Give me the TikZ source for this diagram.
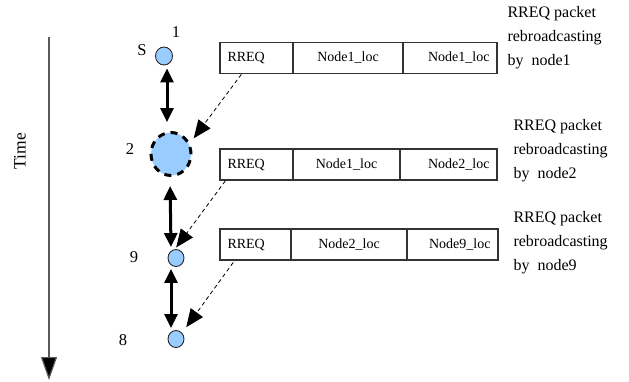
\documentclass[tikz,border=0pt]{standalone}
\usepackage{fontspec}
\setmainfont{Liberation Serif}
\usetikzlibrary{arrows.meta,shapes.geometric,calc}
\definecolor{nodeblue}{RGB}{153,204,255}
\begin{document}
\begin{tikzpicture}[x=1pt,y=-1pt,
  every node/.style={font=\fontsize{14}{16}\selectfont},
  numlabel/.style={font=\fontsize{16.5}{18}\selectfont},
  netnode/.style={ellipse,draw=black!85,line width=0.9pt,fill=nodeblue,inner sep=0pt},
  cell/.style={draw=black!80,line width=1.1pt,minimum height=31pt,inner xsep=7.5pt,inner ysep=0pt,outer sep=0pt},
  dbl/.style={line width=3pt,{Triangle[length=14pt,width=13pt]}-{Triangle[length=14pt,width=13pt]}},
  msg/.style={dashed,dash pattern=on 4pt off 3pt,line width=0.8pt,-{Triangle[length=18pt,width=15pt]}},
  side/.style={align=left,anchor=west,font=\fontsize{16}{24}\selectfont}]
\useasboundingbox (0,0) rectangle (629,381);
% time axis
\coordinate (t0) at (49,37);
\coordinate (t1) at (49,380);
\draw[line width=1.2pt,draw=black!65,-{Triangle[length=23pt,width=16pt,fill=black]}] (t0) -- (t1);
\node[rotate=90,font=\fontsize{17.5}{19}\selectfont] (time) at (20,151) {Time};
% nodes
\node[netnode,minimum width=17pt,minimum height=18pt] (s) at (164,56) {};
\node[netnode,draw=black,line width=3pt,dash pattern=on 7pt off 6pt,minimum width=40pt,minimum height=43pt] (n2) at (171,154) {};
\node[netnode,minimum width=16pt,minimum height=17pt] (n9) at (176,258) {};
\node[netnode,minimum width=16pt,minimum height=17pt] (n8) at (176,339) {};
% node labels
\node[numlabel] (l1) at (176,32) {1};
\node[numlabel] (ls) at (142,50) {S};
\node[numlabel] (l2) at (130,149) {2};
\node[numlabel] (l9) at (134,257) {9};
\node[numlabel] (l8) at (123,340) {8};
% double arrows
\draw[dbl,shorten <=3pt,shorten >=9pt] ([xshift=3pt]s.south) -- ([xshift=-4pt]n2.north);
\draw[dbl,shorten <=9pt,shorten >=2pt] ([xshift=-1pt]n2.south) -- ([xshift=-5pt]n9.north);
\draw[dbl,shorten <=2pt,shorten >=2pt] ([xshift=-5pt]n9.south) -- ([xshift=-5pt]n8.north);
% packet rows
\node[cell,minimum width=73pt,text width=58pt,align=left] (p1a) at (256.5,58) {RREQ};
\node[cell,minimum width=110pt,text width=95pt,align=center] (p1b) at (348,58) {Node1\_loc};
\node[cell,minimum width=94pt,text width=79pt,align=right] (p1c) at (450,58) {Node1\_loc};
\node[cell,minimum width=73pt,text width=58pt,align=left] (p2a) at (256.5,164.5) {RREQ};
\node[cell,minimum width=107pt,text width=92pt,align=center] (p2b) at (346.5,164.5) {Node1\_loc};
\node[cell,minimum width=97pt,text width=82pt,align=right] (p2c) at (448.5,164.5) {Node2\_loc};
\node[cell,minimum width=71pt,text width=56pt,align=left] (p3a) at (255.5,244.5) {RREQ};
\node[cell,minimum width=116pt,text width=101pt,align=center] (p3b) at (349,244.5) {Node2\_loc};
\node[cell,minimum width=91pt,text width=76pt,align=right] (p3c) at (452.5,244.5) {Node9\_loc};
% side labels
\node[side] (d1) at (504,38) {RREQ packet\\rebroadcasting\\by~~node1};
\node[side] (d2) at (510,151) {RREQ packet\\rebroadcasting\\by~~node2};
\node[side] (d3) at (510,243) {RREQ packet\\rebroadcasting\\by~~node9};
% dashed message arrows
\draw[msg,shorten <=1pt] ([xshift=22pt]p1a.south west) -- ([xshift=7pt]n2.45);
\draw[msg,shorten <=1pt,shorten >=2pt] ([xshift=6pt]p2a.south west) -- ([xshift=-1pt]n9.north);
\draw[msg,shorten <=3pt,shorten >=7pt] ([xshift=15pt]p3a.south west) -- (n8.45);
\end{tikzpicture}
\end{document}
